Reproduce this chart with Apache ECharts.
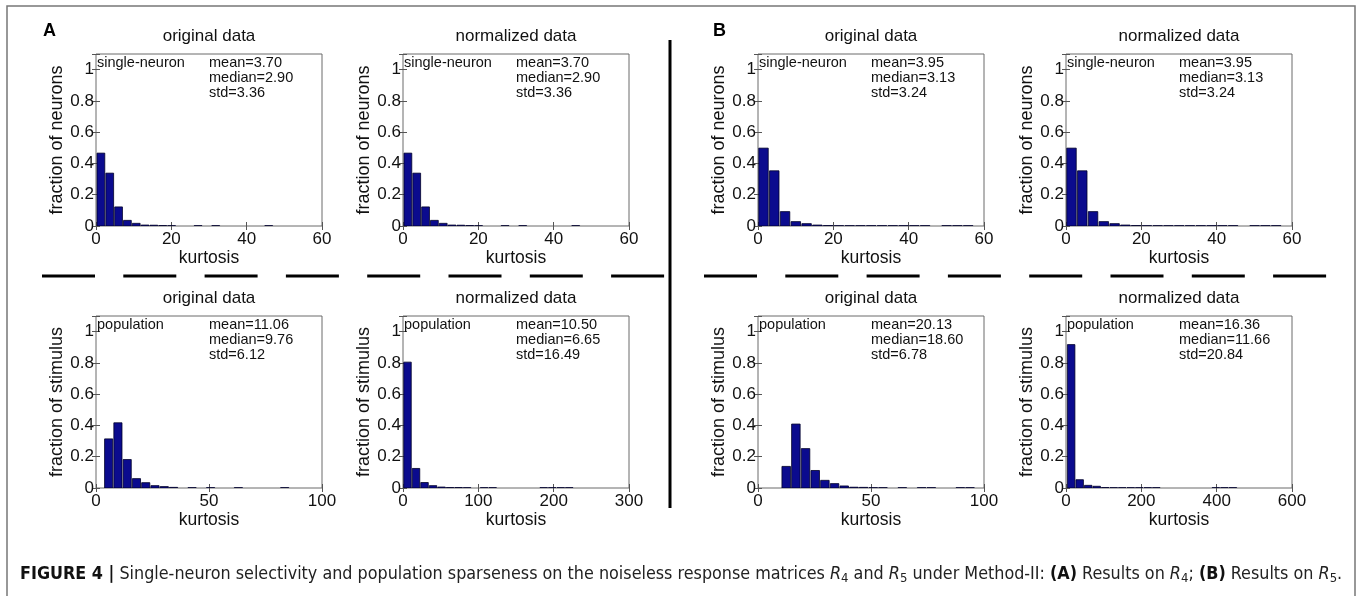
<!DOCTYPE html>
<html><head><meta charset="utf-8">
<script src="https://cdn.jsdelivr.net/npm/echarts@6/dist/echarts.min.js"></script>
<style>html,body{margin:0;padding:0;background:#fff}#c{width:1360px;height:596px}</style>
</head><body><div id="c"></div>
<script>
// ---------- data ----------
// A = results on R4, B = results on R5; 20 histogram bins each
const valuesA_singleOrig = [0.466, 0.338, 0.122, 0.036, 0.017, 0.006, 0.005, 0.003, 0.002, 0, 0, 0.002, 0, 0.002, 0, 0, 0, 0, 0, 0.002];
const valuesA_singleNorm = [0.466, 0.338, 0.122, 0.036, 0.017, 0.006, 0.005, 0.003, 0.002, 0, 0, 0.002, 0, 0.002, 0, 0, 0, 0, 0, 0.002];
const valuesA_popOrig    = [0.314, 0.417, 0.182, 0.060, 0.034, 0.015, 0.009, 0.004, 0, 0.002, 0, 0.002, 0, 0, 0.002, 0, 0, 0, 0, 0.002];
const valuesA_popNorm    = [0.805, 0.125, 0.035, 0.015, 0.006, 0.003, 0.003, 0.002, 0, 0.002, 0.002, 0, 0, 0, 0, 0, 0.002, 0.002, 0.002, 0.002];
const valuesB_singleOrig = [0.498, 0.353, 0.092, 0.028, 0.015, 0.006, 0.003, 0.002, 0.002, 0.002, 0.002, 0.002, 0.002, 0.002, 0.002, 0.002, 0, 0.002, 0.002, 0.002];
const valuesB_singleNorm = [0.498, 0.353, 0.092, 0.028, 0.015, 0.006, 0.003, 0.002, 0.002, 0.002, 0.002, 0.002, 0.002, 0.002, 0.002, 0.002, 0, 0.002, 0.002, 0.002];
const valuesB_popOrig    = [0.138, 0.409, 0.252, 0.112, 0.049, 0.028, 0.013, 0.005, 0.004, 0.002, 0.002, 0, 0.002, 0, 0.002, 0.002, 0, 0, 0.002, 0.002];
const valuesB_popNorm    = [0.917, 0.053, 0.017, 0.011, 0.003, 0.002, 0.002, 0.002, 0.002, 0.002, 0.002, 0, 0, 0, 0, 0, 0, 0.002, 0.002, 0.002];

// first bin centre and bin width (kurtosis units) for each histogram
const binStart = { A_so: 1.3, A_sn: 1.3, A_po: 5.6, A_pn: 5.97, B_so: 1.46, B_sn: 1.46, B_po: 12.48, B_pn: 13.7 };
const binWidth = { A_so: 2.345, A_sn: 2.345, A_po: 4.1, A_pn: 11.3, B_so: 2.86, B_sn: 2.86, B_po: 4.28, B_pn: 22.6 };

// x-axis ranges and tick steps
const xMax      = { A_so: 60, A_sn: 60, A_po: 100, A_pn: 300, B_so: 60, B_sn: 60, B_po: 100, B_pn: 600 };
const xInterval = { A_so: 20, A_sn: 20, A_po: 50,  A_pn: 100, B_so: 20, B_sn: 20, B_po: 50,  B_pn: 200 };
const yMax = 1.1, yInterval = 0.2;

// statistics printed in each panel
const statMean   = { A_so: '3.70', A_sn: '3.70', A_po: '11.06', A_pn: '10.50', B_so: '3.95', B_sn: '3.95', B_po: '20.13', B_pn: '16.36' };
const statMedian = { A_so: '2.90', A_sn: '2.90', A_po: '9.76',  A_pn: '6.65',  B_so: '3.13', B_sn: '3.13', B_po: '18.60', B_pn: '11.66' };
const statStd    = { A_so: '3.36', A_sn: '3.36', A_po: '6.12',  A_pn: '16.49', B_so: '3.24', B_sn: '3.24', B_po: '6.78',  B_pn: '20.84' };

const panelTitles = { orig: 'original data', norm: 'normalized data' };
const yNames = { single: 'fraction of neurons', pop: 'fraction of stimulus' };
const tags = { single: 'single-neuron', pop: 'population' };
const xName = 'kurtosis';

// ---------- layout ----------
const FONT = '"Liberation Sans", Arial, Helvetica, sans-serif';
const colLeft = [96, 403, 758, 1066];
const rowTop = [54, 316];
const PW = 226, PH = 172;

const panels = [
  { key: 'A_so', vals: valuesA_singleOrig, col: 0, row: 0, kind: 'single', t: 'orig' },
  { key: 'A_sn', vals: valuesA_singleNorm, col: 1, row: 0, kind: 'single', t: 'norm' },
  { key: 'B_so', vals: valuesB_singleOrig, col: 2, row: 0, kind: 'single', t: 'orig' },
  { key: 'B_sn', vals: valuesB_singleNorm, col: 3, row: 0, kind: 'single', t: 'norm' },
  { key: 'A_po', vals: valuesA_popOrig,    col: 0, row: 1, kind: 'pop', t: 'orig' },
  { key: 'A_pn', vals: valuesA_popNorm,    col: 1, row: 1, kind: 'pop', t: 'norm' },
  { key: 'B_po', vals: valuesB_popOrig,    col: 2, row: 1, kind: 'pop', t: 'orig' },
  { key: 'B_pn', vals: valuesB_popNorm,    col: 3, row: 1, kind: 'pop', t: 'norm' }
];

const grid = [], xAxis = [], yAxis = [], series = [], graphic = [];
const tickStyle = { inside: true, length: 4, lineStyle: { color: '#555', width: 1 } };

panels.forEach((p, i) => {
  const L = colLeft[p.col], T = rowTop[p.row];
  grid.push({ left: L, top: T, width: PW, height: PH, show: true, borderColor: '#6a6a6a', borderWidth: 1, backgroundColor: '#fff' });
  const xa = { gridIndex: i, type: 'value', min: 0, max: xMax[p.key], interval: xInterval[p.key],
    axisLine: { show: false }, splitLine: { show: false }, axisTick: tickStyle };
  xAxis.push(Object.assign({}, xa, {
    position: 'bottom',
    axisLabel: { fontSize: 17, color: '#111', margin: 5, fontFamily: FONT },
    name: xName, nameLocation: 'middle', nameGap: 18,
    nameTextStyle: { fontSize: 17.5, color: '#111', fontFamily: FONT, verticalAlign: 'top' }
  }));
  xAxis.push(Object.assign({}, xa, { position: 'top', axisLabel: { show: false } }));
  const ya = { gridIndex: i, type: 'value', min: 0, max: yMax, interval: yInterval,
    axisLine: { show: false }, splitLine: { show: false }, axisTick: tickStyle };
  yAxis.push(Object.assign({}, ya, {
    position: 'left',
    axisLabel: { fontSize: 17, color: '#111', margin: 2, fontFamily: FONT,
      formatter: v => (v > 1.001 ? '' : String(Math.round(v * 10) / 10)) },
    name: yNames[p.kind], nameLocation: 'middle', nameGap: 30,
    nameTextStyle: { fontSize: 18, color: '#111', fontFamily: FONT }
  }));
  yAxis.push(Object.assign({}, ya, { position: 'right', axisLabel: { show: false } }));

  const start = binStart[p.key], w = binWidth[p.key];
  series.push({
    type: 'custom', xAxisIndex: 2 * i, yAxisIndex: 2 * i, clip: true,
    data: p.vals.map((v, j) => [start + j * w, v, w]),
    encode: { x: 0, y: 1 },
    renderItem: (params, api) => {
      const c = api.value(0), v = api.value(1), bw = api.value(2);
      if (!(v > 0)) return null;
      const a = api.coord([c - bw * 0.44, v]);
      const b = api.coord([c + bw * 0.44, 0]);
      return { type: 'rect', shape: { x: a[0], y: a[1], width: b[0] - a[0], height: b[1] - a[1] },
        style: { fill: '#0b0b8e', stroke: '#000028', lineWidth: 0.8 } };
    }
  });

  // panel title
  graphic.push({ type: 'text', x: L + PW / 2, y: T - 18, z: 10,
    style: { text: panelTitles[p.t], fontSize: 17, fontFamily: FONT, fill: '#111', align: 'center', verticalAlign: 'middle' } });
  // annotations
  graphic.push({ type: 'text', x: L + 1, y: T + 1, z: 10,
    style: { text: tags[p.kind], fontSize: 14.5, lineHeight: 15, fontFamily: FONT, fill: '#111', align: 'left', verticalAlign: 'top' } });
  graphic.push({ type: 'text', x: L + 113, y: T + 1, z: 10,
    style: { text: 'mean=' + statMean[p.key] + '\nmedian=' + statMedian[p.key] + '\nstd=' + statStd[p.key],
      fontSize: 14.5, lineHeight: 15, fontFamily: FONT, fill: '#111', align: 'left', verticalAlign: 'top' } });
});

// figure frame, separators, panel letters, caption
graphic.push({ type: 'rect', shape: { x: 7, y: 6, width: 1348, height: 620 }, z: 1,
  style: { fill: 'none', stroke: '#777', lineWidth: 1.5 } });
graphic.push({ type: 'line', shape: { x1: 670, y1: 40, x2: 670, y2: 508 }, z: 5,
  style: { stroke: '#000', lineWidth: 3 } });
graphic.push({ type: 'line', shape: { x1: 42, y1: 276, x2: 665, y2: 276 }, z: 5,
  style: { stroke: '#000', lineWidth: 3, lineDash: [53, 28.3] } });
graphic.push({ type: 'line', shape: { x1: 704, y1: 276, x2: 1327, y2: 276 }, z: 5,
  style: { stroke: '#000', lineWidth: 3, lineDash: [53, 28.3] } });
graphic.push({ type: 'text', x: 43, y: 31, z: 10,
  style: { text: 'A', fontSize: 18, fontWeight: 'bold', fontFamily: FONT, fill: '#000', verticalAlign: 'middle' } });
graphic.push({ type: 'text', x: 713, y: 31, z: 10,
  style: { text: 'B', fontSize: 18, fontWeight: 'bold', fontFamily: FONT, fill: '#000', verticalAlign: 'middle' } });

const CAPFONT = '"Liberation Sans Narrow", "DejaVu Sans Condensed", "Liberation Sans", sans-serif';
const CAPSIZE = 17.8;
graphic.push({ type: 'text', x: 20, y: 574, z: 10,
  style: {
    text: '{b|FIGURE 4 |} Single-neuron selectivity and population sparseness on the noiseless response matrices {i|R}{s|4} and {i|R}{s|5} under Method-II: {b|(A)} Results on {i|R}{s|4}; {b|(B)} Results on {i|R}{s|5}.',
    fontSize: CAPSIZE, fontFamily: CAPFONT, fill: '#222', verticalAlign: 'middle',
    rich: {
      b: { fontWeight: 'bold', fontSize: CAPSIZE, fontFamily: CAPFONT, fill: '#111' },
      i: { fontStyle: 'italic', fontSize: CAPSIZE, fontFamily: CAPFONT, fill: '#222' },
      s: { fontSize: 13, fontFamily: CAPFONT, fill: '#222', padding: [10, 0, 0, 0] }
    }
  } });

const chart = echarts.init(document.getElementById('c'), null, { renderer: 'canvas' });
chart.setOption({ backgroundColor: '#fff', animation: false, grid, xAxis, yAxis, series, graphic });
</script></body></html>
